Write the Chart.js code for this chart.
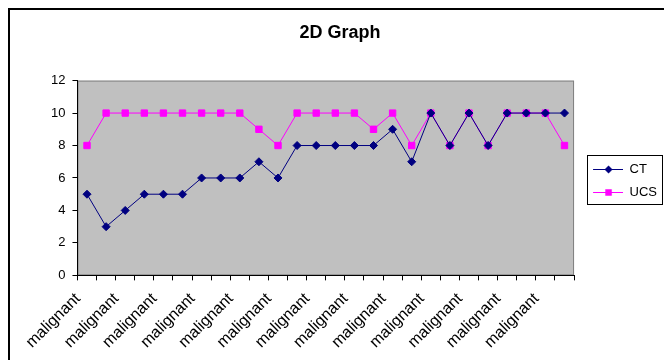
<!DOCTYPE html>
<html>
<head>
<meta charset="utf-8">
<script src="https://cdn.jsdelivr.net/npm/chart.js@4/dist/chart.umd.min.js"></script>
<style>
  html, body { margin: 0; padding: 0; background: #fff; }
  #wrap { position: relative; width: 664px; height: 360px; }
  #frame { position: absolute; left: 8px; top: 8px; width: 700px; height: 400px;
           border-left: 2px solid #000; border-top: 2px solid #000; pointer-events: none; }
  canvas { display: block; }
</style>
</head>
<body>
<div id="wrap">
  <canvas id="chart" width="664" height="360"></canvas>
  <div id="frame"></div>
</div>
<script>
const categories = Array(26).fill('malignant');
const ctValues = [5, 3, 4, 5, 5, 5, 6, 6, 6, 7, 6, 8, 8, 8, 8, 8, 9, 7, 10, 8, 10, 8, 10, 10, 10, 10];
const ucsValues = [8, 10, 10, 10, 10, 10, 10, 10, 10, 9, 8, 10, 10, 10, 10, 9, 10, 8, 10, 8, 10, 8, 10, 10, 10, 8];
const yTicks = [0, 2, 4, 6, 8, 10, 12];

const legendShift = 0;

// legend sample: short line with the marker in the middle (image is as wide as the legend box)
function legendSample(color, shape) {
    const c = document.createElement('canvas');
    c.width = 39; c.height = 10;
    const g = c.getContext('2d');
    g.strokeStyle = color; g.fillStyle = color; g.lineWidth = 1;
    g.beginPath(); g.moveTo(9, 5.5); g.lineTo(39, 5.5); g.stroke();
    g.beginPath();
    if (shape === 'diamond') {
        g.moveTo(24.5, 1.5); g.lineTo(28.5, 5.5); g.lineTo(24.5, 9.5); g.lineTo(20.5, 5.5);
    } else {
        g.rect(21.25, 2.25, 6.5, 6.5);
    }
    g.fill();
    return c;
}

const plotBg = {
    id: 'plotBg',
    afterLayout(chart) {
        const l = chart.legend;
        l.top += legendShift;
        l.bottom += legendShift;
        l.legendHitBoxes.forEach(h => { h.top += legendShift; });
        // centre the title on x = 340 like the original
        chart.titleBlock.left = 16;
        chart.titleBlock.right = 664;
    },
    beforeDraw(chart) {
        const a = chart.chartArea, ctx = chart.ctx;
        ctx.save();
        ctx.fillStyle = '#c0c0c0';
        ctx.fillRect(a.left, a.top, a.right - a.left, a.bottom - a.top);
        ctx.strokeStyle = '#808080';
        ctx.lineWidth = 1;
        ctx.strokeRect(a.left + 0.5, a.top + 0.5, a.right - a.left - 1, a.bottom - a.top - 1);
        ctx.restore();
    },
    afterDraw(chart) {
        const boxes = chart.legend.legendHitBoxes, ctx = chart.ctx;
        if (!boxes.length) return;
        const first = boxes[0], last = boxes[boxes.length - 1];
        const left = Math.round(first.left) + 3.5;
        const top = Math.round(first.top + first.height / 2) - 13.5;
        const bottom = Math.round(last.top + last.height / 2) + 12.5;
        ctx.save();
        ctx.strokeStyle = '#000';
        ctx.lineWidth = 1;
        ctx.strokeRect(left, top, chart.width - 1.5 - left, bottom - top);
        ctx.restore();
    }
};

new Chart(document.getElementById('chart'), {
    type: 'line',
    data: {
        labels: categories,
        datasets: [
            {
                label: 'CT',
                data: ctValues,
                borderColor: '#000080',
                backgroundColor: '#000080',
                borderWidth: 1,
                pointStyle: 'rectRot',
                pointRadius: 4,
                pointBorderWidth: 1,
                tension: 0
            },
            {
                label: 'UCS',
                data: ucsValues,
                borderColor: '#ff00ff',
                backgroundColor: '#ff00ff',
                borderWidth: 1,
                pointStyle: 'rect',
                pointRadius: 4.5,
                pointBorderWidth: 1,
                tension: 0
            }
        ]
    },
    options: {
        responsive: false,
        animation: false,
        layout: { padding: { left: 44, right: -3, bottom: -1, top: 0 } },
        scales: {
            x: {
                offset: true,
                grid: { offset: true, drawOnChartArea: false, drawTicks: true, tickLength: 5, color: '#000' },
                border: { display: true, color: '#000', width: 1 },
                ticks: {
                    autoSkip: false,
                    minRotation: 45,
                    maxRotation: 45,
                    padding: 9,
                    labelOffset: -9,
                    color: '#000',
                    font: { family: 'Liberation Sans, Arial', size: 16 },
                    callback: function (value, index) {
                        return index % 2 === 0 ? categories[index] : '';
                    }
                }
            },
            y: {
                min: 0,
                max: 12,
                afterBuildTicks: function (axis) {
                    axis.ticks = yTicks.map(v => ({ value: v }));
                },
                grid: { drawOnChartArea: false, drawTicks: true, tickLength: 5, color: '#000' },
                border: { display: true, color: '#000', width: 1 },
                ticks: {
                    padding: 7,
                    color: '#000',
                    font: { family: 'Liberation Sans, Arial', size: 13 }
                }
            }
        },
        plugins: {
            title: {
                display: true,
                text: '2D Graph',
                color: '#000',
                font: { family: 'Liberation Sans, Arial', size: 18, weight: 'bold' },
                padding: { top: 22, bottom: 37 }
            },
            legend: {
                position: 'right',
                labels: {
                    usePointStyle: true,
                    pointStyleWidth: 39,
                    padding: 10,
                    color: '#000',
                    font: { family: 'Liberation Sans, Arial', size: 13 },
                    generateLabels: function (chart) {
                        return chart.data.datasets.map((ds, i) => ({
                            text: ds.label,
                            pointStyle: legendSample(ds.borderColor, i === 0 ? 'diamond' : 'square'),
                            fillStyle: ds.borderColor,
                            strokeStyle: ds.borderColor,
                            lineWidth: 0,
                            datasetIndex: i
                        }));
                    }
                }
            },
            tooltip: { enabled: false }
        }
    },
    plugins: [plotBg]
});
</script>
</body>
</html>
